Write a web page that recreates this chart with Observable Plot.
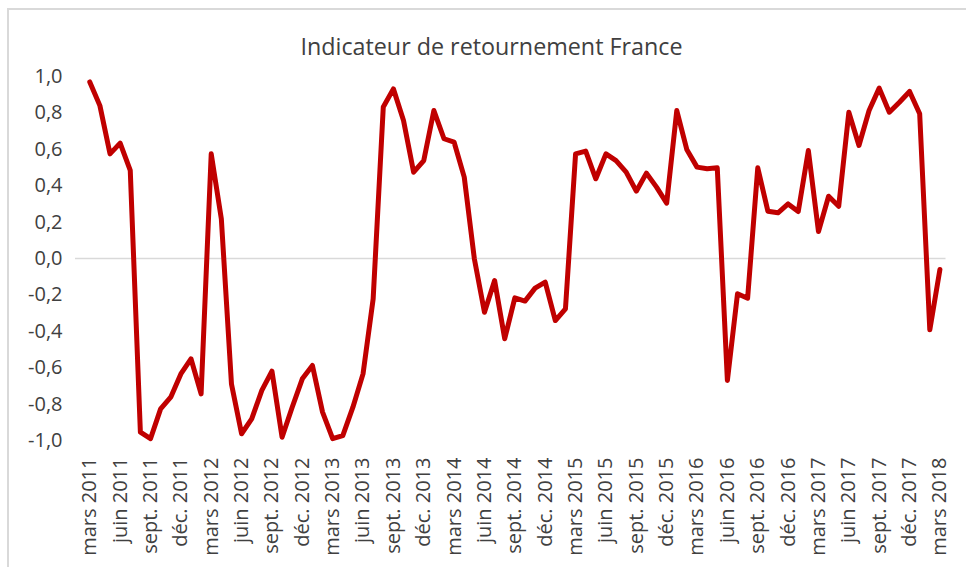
<!DOCTYPE html>
<html>
<head>
<meta charset="utf-8">
<script src="https://cdn.jsdelivr.net/npm/d3@7"></script>
<script src="https://cdn.jsdelivr.net/npm/@observablehq/plot@0.6"></script>
<style>
  html, body { margin: 0; padding: 0; background: #fff; }
  #wrap { position: relative; width: 966px; height: 567px; overflow: hidden; font-family: "Open Sans", sans-serif; }
  #border { position: absolute; left: 7px; top: 8px; width: 1000px; height: 1000px; border: 2px solid #d9d9d9; box-sizing: border-box; }
  #title { position: absolute; left: 0; width: 983px; top: 31px; text-align: center; font-size: 23.3px; color: #404040; line-height: 30px; white-space: nowrap; }
  #chart { position: absolute; left: 0; top: 0; }
</style>
</head>
<body>
<div id="wrap">
  <div id="border"></div>
  <div id="title">Indicateur de retournement France</div>
  <div id="chart"></div>
</div>
<script>
const values = [
  0.97, 0.84, 0.575, 0.634, 0.484, -0.954, -0.99, -0.826, -0.762, -0.634,
  -0.551, -0.744, 0.575, 0.218, -0.689, -0.963, -0.881, -0.725, -0.619, -0.982,
  -0.817, -0.661, -0.588, -0.844, -0.99, -0.973, -0.817, -0.634, -0.222, 0.832,
  0.932, 0.758, 0.474, 0.538, 0.813, 0.658, 0.639, 0.447, -0.002, -0.295,
  -0.121, -0.441, -0.216, -0.234, -0.163, -0.130, -0.341, -0.277, 0.575, 0.590,
  0.438, 0.575, 0.538, 0.475, 0.370, 0.469, 0.392, 0.304, 0.813, 0.597,
  0.502, 0.493, 0.498, -0.670, -0.194, -0.218, 0.498, 0.260, 0.251, 0.300,
  0.258, 0.593, 0.148, 0.342, 0.287, 0.804, 0.621, 0.813, 0.936, 0.804,
  0.859, 0.918, 0.795, -0.392, -0.060
];
const tickLabels = [
  "mars 2011", "juin 2011", "sept. 2011", "déc. 2011",
  "mars 2012", "juin 2012", "sept. 2012", "déc. 2012",
  "mars 2013", "juin 2013", "sept. 2013", "déc. 2013",
  "mars 2014", "juin 2014", "sept. 2014", "déc. 2014",
  "mars 2015", "juin 2015", "sept. 2015", "déc. 2015",
  "mars 2016", "juin 2016", "sept. 2016", "déc. 2016",
  "mars 2017", "juin 2017", "sept. 2017", "déc. 2017",
  "mars 2018"
];
const yTicks = [-1, -0.8, -0.6, -0.4, -0.2, 0, 0.2, 0.4, 0.6, 0.8, 1];

const data = values.map((v, i) => ({i, v}));

const chart = Plot.plot({
  width: 966,
  height: 567,
  marginLeft: 75,
  marginRight: 20.5,
  marginTop: 76,
  marginBottom: 127,
  style: {fontFamily: "'Open Sans', sans-serif", fontSize: "20px", color: "#404040", background: "transparent"},
  x: {
    domain: [-1.41, 84.6],
    ticks: d3.range(0, 85, 3),
    tickFormat: i => tickLabels[i / 3],
    tickRotate: -90,
    tickSize: 0,
    tickPadding: 17,
    label: null
  },
  y: {
    domain: [-1, 1],
    ticks: yTicks,
    tickFormat: d => d.toFixed(1).replace(".", ","),
    tickSize: 0,
    tickPadding: 13,
    label: null
  },
  marks: [
    Plot.ruleY([0], {stroke: "#d9d9d9", strokeWidth: 1.5}),
    Plot.lineY(data, {x: "i", y: "v", stroke: "#C00000", strokeWidth: 5, strokeLinejoin: "round", strokeLinecap: "round"})
  ]
});
document.getElementById("chart").appendChild(chart);
</script>
</body>
</html>
